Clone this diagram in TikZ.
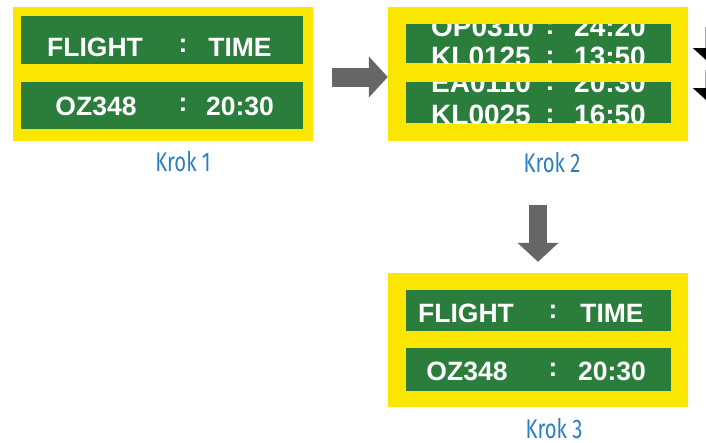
\documentclass[tikz,border=0pt]{standalone}
\usepackage{fontspec}
\setmainfont{Liberation Sans}
\newfontfamily\krokfont[FakeStretch=0.75]{Fira Sans}
\usetikzlibrary{arrows.meta,calc}
\definecolor{boardyellow}{HTML}{FAE600}
\definecolor{screengreen}{HTML}{2A7D3B}
\definecolor{krokblue}{HTML}{2B7EC1}
\definecolor{pointergray}{HTML}{666666}

\begin{document}
\begin{tikzpicture}[x=1pt, y=-1pt,
    board/.style={fill=boardyellow, inner sep=0pt, minimum width=300pt, minimum height=134pt},
    screen/.style={fill=screengreen},
    word/.style={white, inner sep=0pt, anchor=base, font=\bfseries\fontsize{26.5}{26.5}\selectfont},
    rollword/.style={white, inner sep=0pt, anchor=base west, font=\bfseries\fontsize{28}{28}\selectfont},
    caption/.style={krokblue, inner sep=0pt, anchor=base, font=\krokfont\fontsize{27}{27}\selectfont},
    blockarrow/.style={pointergray, line width=#1, -{Triangle[length=19pt, width=40pt]}},
    offarrow/.style={black!35, line width=2pt, -{Triangle[black, length=12pt, width=26pt]}}]
  \useasboundingbox (0,0) rectangle (706,442);
  % step 1: static board
  \node[board] (step1) at (163,74) {};
  \fill[screen] (21,16) rectangle (303,64); \fill[screen] (21,82) rectangle (303,129);
  \node[word] (s1flight) at (95,56) {FLIGHT}; \node[word] (s1colA) at (183,52) {:}; \node[word] (s1time) at (240,56) {TIME};
  \node[word] (s1code) at (96,115) {OZ348}; \node[word] (s1colB) at (183,111) {:}; \node[word] (s1hour) at (240,115) {20:30};
  \node[caption] (krok1) at (183,171) {Krok 1};
  % step 2: scrolling board
  \node[board] (step2) at (538,74) {};
  \fill[screen] (406,24) rectangle (671,63); \fill[screen] (406,82) rectangle (671,123);
  \begin{scope}
    \clip (406,24) rectangle (671,63);
    \node[rollword] (s2codeA) at (431,36) {OP0310}; \node[word] (s2colA) at (550,34) {:}; \node[rollword] (s2hourA) at (574,36) {24:20};
    \node[rollword] (s2codeB) at (431,66) {KL0125}; \node[word] (s2colB) at (550,64) {:}; \node[rollword] (s2hourB) at (574,66) {13:50};
  \end{scope}
  \begin{scope}
    \clip (406,82) rectangle (671,123);
    \node[rollword] (s2codeC) at (431,92) {EA0110}; \node[word] (s2colC) at (550,90) {:}; \node[rollword] (s2hourC) at (574,92) {20:30};
    \node[rollword] (s2codeD) at (431,124) {KL0025}; \node[word] (s2colD) at (550,122) {:}; \node[rollword] (s2hourD) at (574,124) {16:50};
  \end{scope}
  \node[caption] (krok2) at (552,172) {Krok 2};
  \coordinate (rollA) at (706,27); \coordinate (rollA') at (706,60);
  \coordinate (rollB) at (706,70); \coordinate (rollB') at (706,100);
  \draw[offarrow] (rollA) -- (rollA'); \draw[offarrow] (rollB) -- (rollB');
  % step 3: static board again
  \node[board] (step3) at (538,340) {};
  \fill[screen] (406,290) rectangle (671,331); \fill[screen] (406,348) rectangle (671,391);
  \node[word] (s3flight) at (466,322) {FLIGHT}; \node[word] (s3colA) at (553,318) {:}; \node[word] (s3time) at (612,322) {TIME};
  \node[word] (s3code) at (467,380) {OZ348}; \node[word] (s3colB) at (553,376) {:}; \node[word] (s3hour) at (612,380) {20:30};
  \node[caption] (krok3) at (554,438.5) {Krok 3};
  % arrows between steps
  \draw[blockarrow=19pt] ([xshift=19pt, yshift=-3pt]step1.east) -- ([yshift=-3pt]step2.west);
  \draw[blockarrow=18pt] ([yshift=-64pt]step2.south) -- ([yshift=11pt]step3.north);
\end{tikzpicture}
\end{document}
